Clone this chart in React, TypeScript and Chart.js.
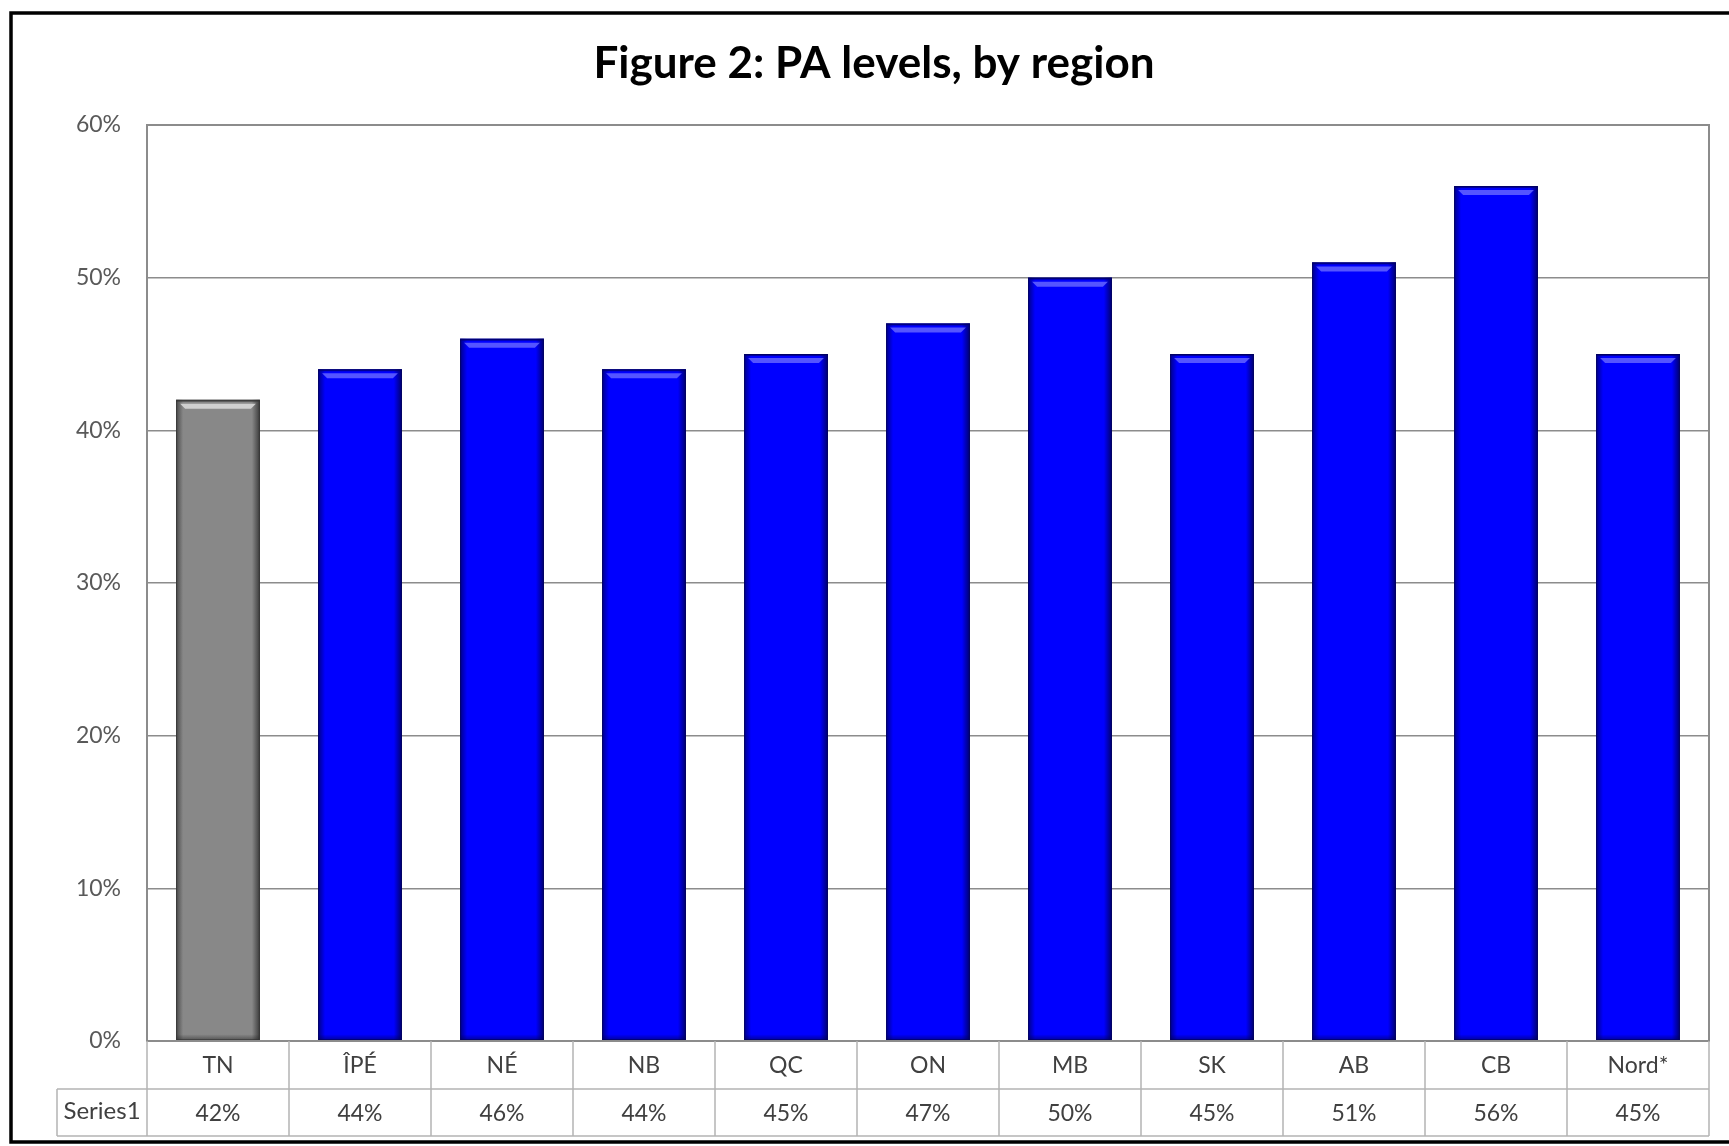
import React, { useEffect, useRef } from "react";
import { Chart, registerables } from "chart.js";

Chart.register(...registerables);

const titleText = "Figure 2: PA levels, by region";
const categories = ["TN", "ÎPÉ", "NÉ", "NB", "QC", "ON", "MB", "SK", "AB", "CB", "Nord*"];
const values = [42, 44, 46, 44, 45, 47, 50, 45, 51, 56, 45];
const seriesName = "Series1";
const highlighted = ["TN"];
const yMin = 0;
const yMax = 60;
const yStep = 10;

const FONT = "Lato, 'Open Sans', 'DejaVu Sans', sans-serif";
const W = 1729;
const H = 1146;

const BLUE = "#0000FF";
const GRAY = "#888888";

const framePlugin = {
  id: "frame",
  beforeDraw(chart: any) {
    const ctx = chart.ctx;
    ctx.save();
    ctx.fillStyle = "#ffffff";
    ctx.fillRect(0, 0, chart.width, chart.height);
    ctx.restore();
  },
  afterDatasetsDraw(chart: any) {
    const ctx = chart.ctx;
    const meta = chart.getDatasetMeta(0);
    ctx.save();
    meta.data.forEach((bar: any, i: number) => {
      const { x, y, base, width } = bar.getProps(["x", "y", "base", "width"], true);
      const left = x - width / 2;
      const right = x + width / 2;
      const top = y;
      const h = base - y;
      const isHi = highlighted.includes(categories[i]);
      const dark = isHi ? "rgba(40,40,40," : "rgba(0,0,70,";
      let g = ctx.createLinearGradient(left, 0, left + 7, 0);
      g.addColorStop(0, dark + "0.65)");
      g.addColorStop(1, dark + "0)");
      ctx.fillStyle = g;
      ctx.fillRect(left, top, 7, h);
      g = ctx.createLinearGradient(right, 0, right - 8, 0);
      g.addColorStop(0, dark + "0.8)");
      g.addColorStop(1, dark + "0)");
      ctx.fillStyle = g;
      ctx.fillRect(right - 8, top, 8, h);
      g = ctx.createLinearGradient(0, base, 0, base - 6);
      g.addColorStop(0, dark + "0.55)");
      g.addColorStop(1, dark + "0)");
      ctx.fillStyle = g;
      ctx.fillRect(left, base - 6, width, 6);
      ctx.fillStyle = isHi ? "rgba(60,60,60,0.7)" : "rgba(0,0,120,0.7)";
      ctx.fillRect(left, top, width, 2);
      ctx.fillStyle = isHi ? "rgba(215,215,215,0.9)" : "rgba(100,100,255,0.85)";
      ctx.beginPath();
      ctx.moveTo(left + 4, top + 4);
      ctx.lineTo(right - 4, top + 4);
      ctx.lineTo(right - 9, top + 9);
      ctx.lineTo(left + 9, top + 9);
      ctx.closePath();
      ctx.fill();
      ctx.strokeStyle = isHi ? "rgba(50,50,50,0.8)" : "rgba(0,0,90,0.8)";
      ctx.lineWidth = 1;
      ctx.strokeRect(left + 0.5, top + 0.5, width - 1, h - 1);
    });
    ctx.restore();
  },
  afterDraw(chart: any) {
    const ctx = chart.ctx;
    const area = chart.chartArea;
    const xs = chart.scales.x;
    const n = categories.length;
    const cw = (area.right - area.left) / n;
    const rowTop = area.bottom;
    const row1Bottom = rowTop + 48;
    const row2Bottom = rowTop + 95;
    const tableLeft = 57;
    ctx.save();
    // title
    ctx.fillStyle = "#000000";
    ctx.font = `bold 44px ${FONT}`;
    ctx.textAlign = "center";
    ctx.textBaseline = "middle";
    ctx.fillText(titleText, 874, 64);
    // plot frame
    ctx.strokeStyle = "#8c8c8c";
    ctx.lineWidth = 2;
    ctx.strokeRect(area.left, area.top, area.right - area.left, area.bottom - area.top);
    // table grid
    ctx.strokeStyle = "#b4b4b4";
    ctx.lineWidth = 1.5;
    ctx.beginPath();
    ctx.moveTo(tableLeft, row1Bottom);
    ctx.lineTo(area.right, row1Bottom);
    ctx.moveTo(tableLeft, row2Bottom);
    ctx.lineTo(area.right, row2Bottom);
    ctx.moveTo(tableLeft, row1Bottom);
    ctx.lineTo(tableLeft, row2Bottom);
    for (let i = 0; i <= n; i++) {
      const bx = i < n ? xs.getPixelForValue(i) - cw / 2 : xs.getPixelForValue(n - 1) + cw / 2;
      ctx.moveTo(bx, rowTop);
      ctx.lineTo(bx, row2Bottom);
    }
    ctx.stroke();
    // table text
    ctx.fillStyle = "#404040";
    ctx.font = `23px ${FONT}`;
    categories.forEach((c, i) => {
      const cx = xs.getPixelForValue(i);
      ctx.fillText(c, cx, (rowTop + row1Bottom) / 2 + 1);
      ctx.fillText(values[i] + "%", cx, (row1Bottom + row2Bottom) / 2 + 1);
    });
    ctx.font = `24px ${FONT}`;
    ctx.fillText(seriesName, (tableLeft + area.left) / 2, (row1Bottom + row2Bottom) / 2 - 1);
    // outer border
    ctx.strokeStyle = "#000000";
    ctx.lineWidth = 3.5;
    ctx.beginPath();
    ctx.moveTo(W + 5, 13);
    ctx.lineTo(11, 13);
    ctx.lineTo(11, 1142);
    ctx.lineTo(W + 5, 1142);
    ctx.stroke();
    ctx.restore();
  },
};

export default function App() {
  const ref = useRef<HTMLCanvasElement>(null);
  useEffect(() => {
    if (!ref.current) return;
    const chart = new Chart(ref.current, {
      type: "bar",
      data: {
        labels: categories,
        datasets: [
          {
            label: seriesName,
            data: values,
            backgroundColor: categories.map((c) => (highlighted.includes(c) ? GRAY : BLUE)),
            borderWidth: 0,
            barPercentage: 0.59,
            categoryPercentage: 1,
          },
        ],
      },
      options: {
        animation: false,
        responsive: true,
        maintainAspectRatio: false,
        layout: { padding: { left: 0, right: 20, top: 125, bottom: 105 } },
        plugins: {
          legend: { display: false },
          tooltip: { enabled: false },
          title: { display: false },
        },
        scales: {
          x: {
            display: false,
          },
          y: {
            min: yMin,
            max: yMax,
            afterFit: (scale: any) => {
              scale.width = 147;
            },
            ticks: {
              stepSize: yStep,
              color: "#595959",
              font: { family: FONT, size: 23 },
              padding: 26,
              callback: (v: any) => v + "%",
            },
            grid: { color: "#8c8c8c", lineWidth: 1.5, drawTicks: false },
            border: { display: true, color: "#8c8c8c", width: 2 },
          },
        },
      },
      plugins: [framePlugin],
    });
    return () => chart.destroy();
  }, []);
  return (
    <div style={{ position: "absolute", left: 0, top: 0, width: W, height: H, background: "#fff" }}>
      <canvas ref={ref} />
    </div>
  );
}
